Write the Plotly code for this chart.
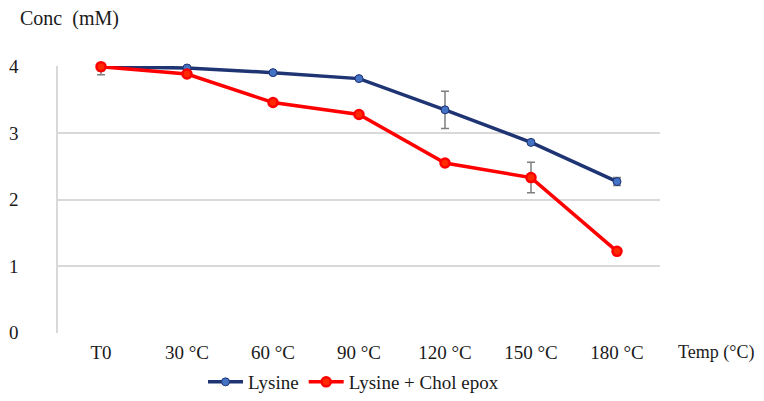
import plotly.graph_objects as go

categories = ["T0", "30 °C", "60 °C", "90 °C", "120 °C", "150 °C", "180 °C"]
lysine = [4.00, 3.98, 3.91, 3.82, 3.35, 2.86, 2.27]
lysine_err = [0.12, 0.10, 0.02, 0.02, 0.28, 0.03, 0.06]
chol = [4.00, 3.89, 3.46, 3.28, 2.55, 2.33, 1.22]
chol_err = [0.06, 0.03, 0.02, 0.02, 0.03, 0.23, 0.03]
y_ticks = [0, 1, 2, 3, 4]

font = "Liberation Serif, Times New Roman, serif"
txt = "#1a1a1a"

OFF = 8  # page offset of the figure div
W, H = 764 - OFF, 401 - OFF
L, R, T, B = 58 - OFF, 104, 66 - OFF, 68
pw, ph = W - L - R, H - T - B


def px_x(px):
    return (px - OFF - L) / pw


def px_y(py):
    return (H - B - (py - OFF)) / ph


fig = go.Figure()
fig.add_trace(go.Scatter(
    x=categories, y=lysine, name="Lysine", mode="lines+markers",
    line=dict(color="#1F3473", width=3.5),
    marker=dict(symbol="circle", size=8, color="#4472C4", line=dict(color="#1F3473", width=1)),
    error_y=dict(type="data", array=lysine_err, color="#7F7F7F", thickness=1.5, width=4),
    cliponaxis=False,
))
fig.add_trace(go.Scatter(
    x=categories, y=chol, name="Lysine + Chol epox", mode="lines+markers",
    line=dict(color="#FF0000", width=3.5),
    marker=dict(symbol="circle", size=9, color="#FF2A00", line=dict(color="#FF0000", width=2.5)),
    error_y=dict(type="data", array=chol_err, color="#7F7F7F", thickness=1.5, width=4),
    cliponaxis=False,
))

fig.update_layout(
    width=W, height=H,
    margin=dict(l=L, r=R, t=T, b=B, autoexpand=False),
    paper_bgcolor="white", plot_bgcolor="white",
    font=dict(family=font, size=19, color=txt),
    showlegend=True,
    legend=dict(orientation="h", xref="container", yref="container",
                x=(353.5 - OFF) / W, xanchor="center", y=1 - (382 - OFF) / H, yanchor="middle",
                font=dict(family=font, size=19, color=txt), itemwidth=35,
                tracegroupgap=0),
    xaxis=dict(type="category", range=[-0.5, 6.5], showgrid=False, zeroline=False,
               showline=False, ticks="", tickfont=dict(size=19), ticklabelstandoff=6,
               automargin=False),
    yaxis=dict(range=[-0.01, 4.01], tickvals=y_ticks, showgrid=True, gridcolor="#D9D9D9", gridwidth=1.5,
               zeroline=False, showline=True, linecolor="#D9D9D9", linewidth=1.5,
               ticks="", tickfont=dict(size=19), ticklabelstandoff=34, automargin=False),
    annotations=[
        dict(text="Conc  (mM)", xref="paper", yref="paper", x=px_x(18), y=px_y(18),
             xanchor="left", yanchor="middle", showarrow=False,
             font=dict(family=font, size=20, color=txt)),
        dict(text="Temp (°C)", xref="paper", yref="paper", x=px_x(676), y=px_y(352),
             xanchor="left", yanchor="middle", showarrow=False,
             font=dict(family=font, size=18, color=txt)),
    ],
)

fig.write_html("out.html")
